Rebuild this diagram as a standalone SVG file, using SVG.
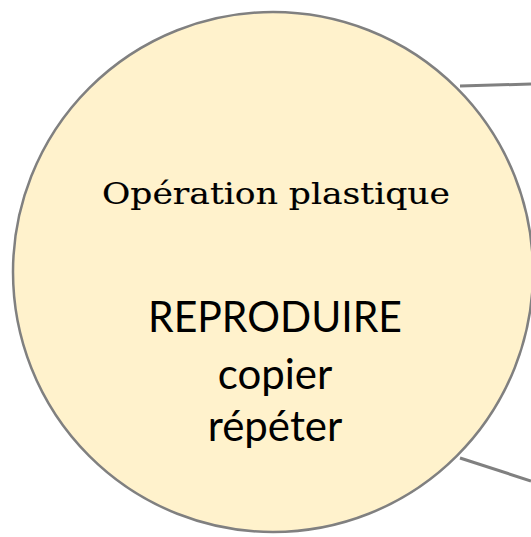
<svg xmlns="http://www.w3.org/2000/svg" width="531" height="537" viewBox="0 0 531 537">
<style>
.conn{stroke:#808080;stroke-width:3;fill:none}
.node{fill:#fff2cc;stroke:#808080;stroke-width:2.5}
.t1{font-family:"DejaVu Serif","Liberation Serif",serif;font-size:30px;fill:#000;stroke:#000;stroke-width:0.15}
.t2{font-family:"Lato","Open Sans","Liberation Sans",sans-serif;font-size:42px;fill:#000}
</style>
<rect width="531" height="537" fill="#fff"/>
<g id="connectors">
<line class="conn" x1="460" y1="86" x2="531" y2="84"/>
<line class="conn" x1="460" y1="458" x2="531" y2="481"/>
</g>
<g id="node-reproduire">
<circle class="node" cx="273" cy="272" r="260"/>
<text class="t1" x="276" y="204" text-anchor="middle" textLength="348" lengthAdjust="spacingAndGlyphs">Opération plastique</text>
<text class="t2" x="275" y="332" text-anchor="middle" textLength="254" lengthAdjust="spacingAndGlyphs">REPRODUIRE</text>
<text class="t2" x="275" y="389" text-anchor="middle">copier</text>
<text class="t2" x="275" y="441" text-anchor="middle">répéter</text>
</g>
</svg>
